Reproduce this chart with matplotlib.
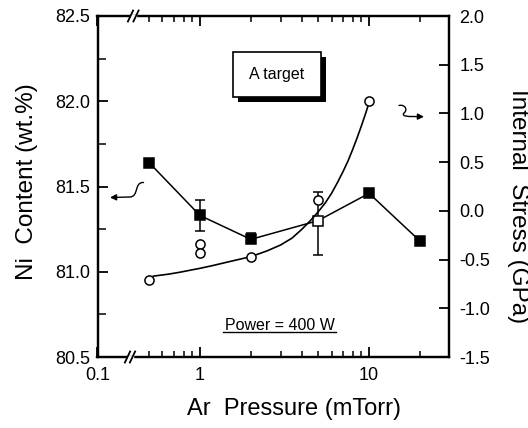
import matplotlib
matplotlib.use("Agg")
import matplotlib.pyplot as plt
from matplotlib.patches import Rectangle, FancyArrowPatch
from matplotlib.path import Path
from matplotlib.lines import Line2D
import matplotlib.transforms as mtrans

plt.rcParams['font.family'] = ['Liberation Sans', 'DejaVu Sans']

# ---------------- data ----------------
ni_x = [0.5, 1, 2, 5, 10, 20]
ni_y = [81.64, 81.33, 81.19, 81.30, 81.46, 81.18]
ni_open = [False, False, False, True, False, False]
ni_err_x = [1, 2, 5]
ni_err_lo = [0.09, 0.02, 0.20]
ni_err_hi = [0.09, 0.04, 0.17]

stress_x = [0.5, 1, 1, 2, 5, 10]
stress_y = [-0.71, -0.34, -0.43, -0.47, 0.11, 1.13]

curve_x = [0.53, 0.65, 0.76, 0.9, 1.0, 1.2, 1.5, 2, 2.5, 3, 3.5, 4, 4.5, 5,
           5.5, 6, 6.5, 7, 7.5, 8, 8.5, 9, 9.5, 10]
curve_y = [-0.67, -0.65, -0.63, -0.605, -0.59, -0.56, -0.52, -0.47, -0.41,
           -0.35, -0.28, -0.19, -0.10, -0.01, 0.08, 0.18, 0.29, 0.40, 0.51,
           0.63, 0.75, 0.87, 0.99, 1.11]

x_tick_labels = ['0.1', '1', '10']
left_ticks = [80.5, 81.0, 81.5, 82.0, 82.5]
left_tick_labels = ['80.5', '81.0', '81.5', '82.0', '82.5']
right_ticks = [-1.5, -1.0, -0.5, 0.0, 0.5, 1.0, 1.5, 2.0]
right_tick_labels = ['-1.5', '-1.0', '-0.5', '0.0', '0.5', '1.0', '1.5', '2.0']

# ---------------- figure ----------------
W, H = 528, 428
fig = plt.figure(figsize=(W / 100, H / 100), dpi=100)
fig.patch.set_facecolor('white')

L, R, T, B = 97.5, 448.5, 16, 357
ax = fig.add_axes([L / W, 1 - B / H, (R - L) / W, (B - T) / H])
ax2 = ax.twinx()

# pixel-coordinate transform (y down) for decorations
pix = mtrans.Affine2D().scale(1 / W, -1 / H).translate(0, 1) + fig.transFigure

xmin, xmax = 0.2477, 29.5
ax.set_xscale('log')
ax.set_xlim(xmin, xmax)
ax.set_ylim(80.5, 82.5)
ax2.set_ylim(-1.5, 2.0)

# Ni content line & squares
ax.plot(ni_x, ni_y, '-', color='k', lw=1.1, zorder=2)
ax.errorbar(ni_err_x, [ni_y[ni_x.index(v)] for v in ni_err_x],
            yerr=[ni_err_lo, ni_err_hi], fmt='none', ecolor='k',
            elinewidth=1.1, capsize=3.6, capthick=1.1, zorder=2)
for xv, yv, op in zip(ni_x, ni_y, ni_open):
    ax.plot([xv], [yv], 's', ms=6.8, mec='k', mew=1.1,
            mfc='white' if op else 'k', zorder=4)

# stress curve & circles
ax2.plot(curve_x, curve_y, '-', color='k', lw=1.2, zorder=2)
ax2.plot(stress_x, stress_y, 'o', ms=6.6, mfc='white', mec='k', mew=1.1,
         zorder=3, linestyle='none')

# spines
for a in (ax, ax2):
    for s in a.spines.values():
        s.set_linewidth(1.6)

# ticks
ax.set_xticks([xmin, 1, 10])
ax.set_xticklabels(x_tick_labels)
ax.set_xticks([0.5, 0.6, 0.7, 0.8, 0.9, 2, 3, 4, 5, 6, 7, 8, 9, 20], minor=True)
ax.xaxis.set_minor_formatter(plt.NullFormatter())
ax.tick_params(axis='x', which='major', direction='in', length=7, width=1.3,
               top=True, bottom=True, labelsize=13, pad=7)
ax.tick_params(axis='x', which='minor', direction='in', length=4, width=1.1,
               top=True, bottom=True)

ax.set_yticks(left_ticks)
ax.set_yticklabels(left_tick_labels)
ax.set_yticks([80.75, 81.25, 81.75, 82.25], minor=True)
ax.tick_params(axis='y', which='major', direction='in', length=7, width=1.3,
               left=True, right=False, labelsize=13, pad=5)
ax.tick_params(axis='y', which='minor', direction='in', length=6, width=1.1,
               left=True, right=False)

ax2.set_yticks(right_ticks)
ax2.set_yticklabels(right_tick_labels)
ax2.tick_params(axis='y', which='major', direction='in', length=7, width=1.3,
                right=True, left=False, labelsize=13, pad=8)
ax2.tick_params(axis='y', which='minor', right=False, left=False)

# axis labels (placed in figure pixels)
fig.text(294 / W, 1 - 409 / H, 'Ar  Pressure (mTorr)', fontsize=17,
         ha='center', va='center')
fig.text(27 / W, 1 - 182 / H, 'Ni  Content (wt.%)', fontsize=17.5,
         ha='center', va='center', rotation=90)
fig.text(518 / W, 1 - 206 / H, 'Internal  Stress (GPa)', fontsize=17.5,
         ha='center', va='center', rotation=270)

# text box "A target" with shadow
bx0, by0, bx1, by1 = 233, 52, 321, 97
off = 5
fig.add_artist(Rectangle((bx0 + off, by0 + off), bx1 - bx0, by1 - by0,
                         transform=pix, facecolor='k', edgecolor='k', lw=0, zorder=5))
fig.add_artist(Rectangle((bx0, by0), bx1 - bx0, by1 - by0, transform=pix,
                         facecolor='white', edgecolor='k', lw=1.2, zorder=6))
fig.text(277 / W, 1 - 75 / H, 'A target', ha='center', va='center',
         fontsize=11.5, zorder=7)

# "Power = 400 W" underlined
fig.text(279.5 / W, 1 - 325 / H, 'Power = 400 W', ha='center', va='center',
         fontsize=11.5, zorder=7)
fig.add_artist(Line2D([223, 336], [332, 332], transform=pix, color='k', lw=1.0))

# curly arrows
p1 = Path([(143.5, 182.5), (134, 182), (139, 196.5), (130, 197), (110, 197.5)],
          [Path.MOVETO, Path.CURVE4, Path.CURVE4, Path.CURVE4, Path.LINETO])
fig.add_artist(FancyArrowPatch(path=p1, transform=pix, arrowstyle='-|>',
                               mutation_scale=9, color='k', lw=1.0))
p2 = Path([(399, 105.5), (405, 104), (408, 110), (404, 113),
           (401, 116.5), (409, 116.5), (412, 116.5), (424, 116.7)],
          [Path.MOVETO, Path.CURVE4, Path.CURVE4, Path.CURVE4,
           Path.CURVE4, Path.CURVE4, Path.CURVE4, Path.LINETO])
fig.add_artist(FancyArrowPatch(path=p2, transform=pix, arrowstyle='-|>',
                               mutation_scale=9, color='k', lw=1.0))

# axis break marks
for (yc, xa, xb) in [(B, 127.5, 132.5), (T, 130.5, 136)]:
    fig.add_artist(Line2D([xa + 1, xb - 1], [yc, yc], transform=pix,
                          color='white', lw=2.5, zorder=10))
    for xc in (xa, xb):
        fig.add_artist(Line2D([xc - 2.6, xc + 2.6], [yc + 5.5, yc - 5.5],
                              transform=pix, color='k', lw=1.3, zorder=11))

fig.savefig('out.png', dpi=100)
